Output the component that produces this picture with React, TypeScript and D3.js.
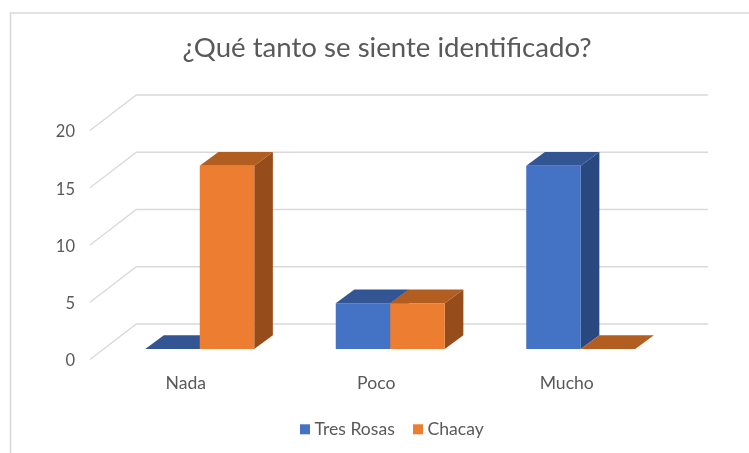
import React from "react";
import * as d3 from "d3";

const categories = ["Nada", "Poco", "Mucho"];
const seriesNames = ["Tres Rosas", "Chacay"];
const tresRosas = [0, 4, 16];
const chacay = [16, 4, 0];
const ticks = [0, 5, 10, 15, 20];

const FONT = "Lato, Carlito, sans-serif";
const TEXT = "#595959";
const GRID = "#d9d9d9";
const palette = [
  { front: "#4472c4", top: "#335593", side: "#2a4880" },
  { front: "#ed7d31", top: "#b25e20", side: "#974d1b" },
];

const W = 749, H = 453;
const unit = 11.45;
const baseY = 349;
const barDX = 18.6, barDY = 13.8;
const wallDX = 46.3, wallDY = 35.5;

const x = d3.scaleBand<string>().domain(categories).range([104.5, 676]);
const barW = 54.5;
const y = d3.scaleLinear().domain([0, 20]).range([baseY, baseY - 20 * unit]);
const axisY = (v: number) => y(v) + 10.5;

const pts = (p: number[][]) => p.map((a) => a.join(",")).join(" ");

export default function App() {
  const series = [tresRosas, chacay];
  return (
    <svg width={W} height={H} style={{ position: "absolute", left: 0, top: 0, background: "#fff", filter: "blur(0.35px)" }} fontFamily={FONT}>
      <path d={`M10.5 ${H} V13 H${W}`} fill="none" stroke={GRID} strokeWidth={1.6} />
      <text x={387} y={57} textAnchor="middle" fontSize={27.6} fill={TEXT}>¿Qué tanto se siente identificado?</text>

      {ticks.map((t) => (
        <g key={t}>
          <path
            d={`M90 ${axisY(t)} L${90 + wallDX} ${axisY(t) - wallDY} H708`}
            fill="none" stroke={GRID} strokeWidth={1.3}
          />
          <text x={75} y={axisY(t) + 1} dy="0.36em" textAnchor="end" fontSize={16.5} fill={TEXT}>{t}</text>
        </g>
      ))}

      {categories.map((c, ci) => {
        const cx = x(c)! + x.bandwidth() / 2;
        return (
          <g key={c}>
            {series.map((vals, si) => {
              const v = vals[ci];
              const x0 = cx + (si - 1) * barW;
              const x1 = x0 + barW;
              const yt = y(v);
              const col = palette[si];
              return (
                <g key={si}>
                  {v > 0 && (
                    <polygon
                      points={pts([[x1, yt], [x1 + barDX, yt - barDY], [x1 + barDX, baseY - barDY], [x1, baseY]])}
                      fill={col.side}
                    />
                  )}
                  <polygon
                    points={pts([[x0, yt], [x0 + barDX, yt - barDY], [x1 + barDX, yt - barDY], [x1, yt]])}
                    fill={col.top}
                  />
                </g>
              );
            })}
            <text x={cx - 14} y={383} dy="0.36em" textAnchor="middle" fontSize={17.6} fill={TEXT}>{c}</text>
          </g>
        );
      })}

      {categories.map((c, ci) => {
        const cx = x(c)! + x.bandwidth() / 2;
        return series.map((vals, si) => {
          const v = vals[ci];
          if (!v) return null;
          return (
            <rect key={c + si} x={cx + (si - 1) * barW} y={y(v)} width={barW} height={baseY - y(v)} fill={palette[si].front} />
          );
        });
      })}

      {seriesNames.map((n, i) => {
        const lx = [300, 413][i];
        return (
          <g key={n}>
            <rect x={lx} y={424.3} width={10} height={10} fill={palette[i].front} />
            <text x={lx + 14.5} y={429} dy="0.36em" fontSize={17.6} fill={TEXT}>{n}</text>
          </g>
        );
      })}
    </svg>
  );
}
